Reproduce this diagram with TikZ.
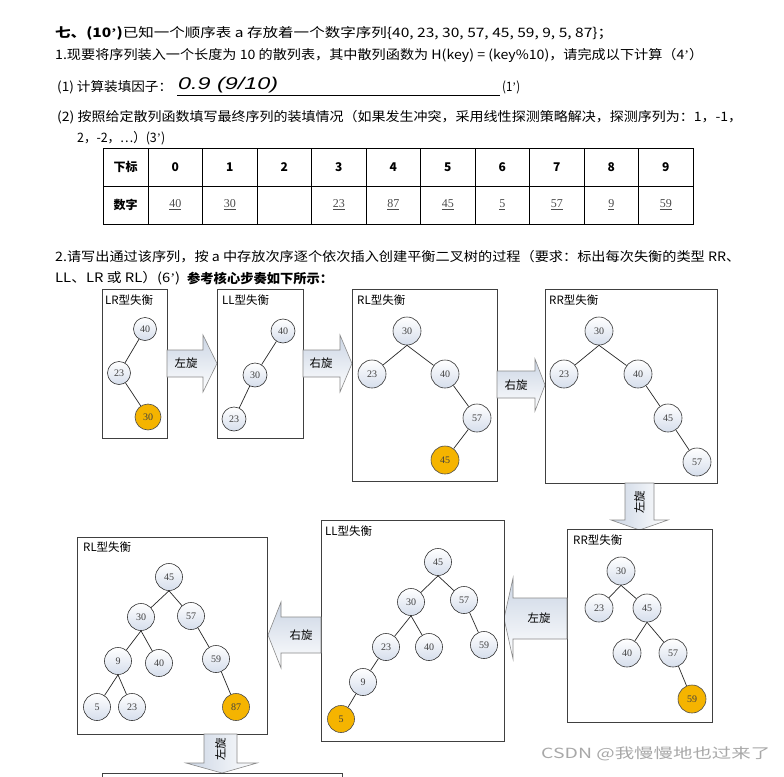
\documentclass[tikz,border=0pt]{standalone}
\usepackage{fontspec}
\usepackage{graphicx}
\setmainfont{Noto Sans CJK SC}
\newfontfamily\numfont{Liberation Serif}
\newfontfamily\ansfont{Liberation Sans}
\newcommand{\ap}{{\numfont ’}}
\definecolor{boxline}{HTML}{404040}
\definecolor{nodefill}{HTML}{D6DEEC}
\definecolor{hot}{HTML}{F5B400}
\definecolor{arrfill}{HTML}{CBD5E4}
\definecolor{arrline}{HTML}{8A8A8A}
\definecolor{wmark}{HTML}{A8A8A8}
\tikzset{
  nd/.style={circle, draw=black!80, line width=0.6pt, top color=white, bottom color=nodefill,
    inner sep=0pt, minimum size=27pt, font=\numfont\fontsize{10}{11}\selectfont, text=black!75},
  hotnd/.style={circle, draw=black!70, line width=0.6pt, fill=hot,
    inner sep=0pt, minimum size=27pt, font=\numfont\fontsize{10}{11}\selectfont, text=black!75},
  panel/.style={draw=boxline, line width=0.8pt, fill=white},
  ptitle/.style={anchor=west, inner sep=0pt, font=\fontsize{11.5}{12}\selectfont},
  edge/.style={draw=black!85, line width=0.7pt},
  harrow/.style={draw=arrline, line width=0.6pt, top color=arrfill, bottom color=white},
  varrow/.style={draw=arrline, line width=0.6pt, left color=arrfill, right color=white},
  alabel/.style={inner sep=0pt, font=\fontsize{11.5}{12}\selectfont},
  qline/.style={anchor=west, inner sep=0pt, font=\fontsize{13}{15}\selectfont},
  thead/.style={inner sep=0pt, font=\bfseries\fontsize{12}{13}\selectfont},
  tval/.style={inner sep=0pt, text=black!70, font=\numfont\fontsize{12}{13}\selectfont},
}
\begin{document}
\begin{tikzpicture}[x=1pt,y=-1pt]
\useasboundingbox (0,0) rectangle (784,776);
\fill[white] (0,0) rectangle (784,776);

% ---------- question text ----------
\node[qline] (t1) at (55,33) {\resizebox{558pt}{\height}{\textbf{七、(10\ap)}已知一个顺序表 a 存放着一个数字序列\{40, 23, 30, 57, 45, 59, 9, 5, 87\}；}};
\node[qline] (t2) at (55,55) {\resizebox{648pt}{\height}{1.现要将序列装入一个长度为 10 的散列表，其中散列函数为 H(key) = (key\%10)，请完成以下计算（4\ap）}};
\node[qline] (t3a) at (57,87) {\resizebox{115pt}{\height}{(1) 计算装填因子：}};
\node[anchor=west, inner sep=0pt, font=\ansfont\itshape\fontsize{17}{18}\selectfont] (t3b) at (178,85) {\resizebox{100pt}{\height}{0.9 (9/10)}};
\coordinate (u1) at (177,95);
\coordinate (u2) at (500,95);
\draw[line width=0.8pt] (u1) -- (u2);
\node[qline] (t3c) at (502,87) {\resizebox{18pt}{\height}{(1\ap)}};
\node[qline] (t4) at (57,117) {\resizebox{685pt}{\height}{(2) 按照给定散列函数填写最终序列的装填情况（如果发生冲突，采用线性探测策略解决，探测序列为：1，-1，}};
\node[qline] (t5) at (77,138) {\resizebox{88pt}{\height}{2，-2，…）(3\ap)}};

% ---------- table ----------
\draw[line width=0.8pt] (103,148) rectangle (693,224);
\draw[line width=0.8pt] (103,186) -- (693,186);
\foreach \xx in {148,202.5,257,311.5,366,420.5,475,529.5,584,638.5} {
  \draw[line width=0.8pt] (\xx,148) -- (\xx,224);
}
\node[thead] (h0) at (125.5,167) {下标};
\node[thead] (h1) at (125.5,205) {数字};
\foreach \i/\v in {0/40,1/30,2/{},3/23,4/87,5/45,6/5,7/57,8/9,9/59} {
  \node[thead] (c\i) at ({175.25+54.5*\i},167) {\i};
  \node[tval] (v\i) at ({175.25+54.5*\i},205) {\underline{\v}};
}

% ---------- section 2 text ----------
\node[qline] (t6) at (55,257) {\resizebox{685pt}{\height}{2.请写出通过该序列，按 a 中存放次序逐个依次插入创建平衡二叉树的过程（要求：标出每次失衡的类型 RR、}};
\node[qline] (t7a) at (55,278) {\resizebox{125pt}{\height}{LL、LR 或 RL）(6\ap)}};
\node[qline] (t7b) at (187,278) {\resizebox{146pt}{\height}{\textbf{参考核心步奏如下所示：}}};

% ---------- panel A ----------
\draw[panel] (102,289) rectangle (167,438);
\node[ptitle] (pa) at (105,300) {LR型失衡};
\node[nd, minimum size=23pt] (a40) at (145,329) {40};
\node[nd, minimum size=23pt] (a23) at (119,373) {23};
\node[hotnd, minimum size=26pt] (a30) at (148,417) {30};
\draw[edge] (a40) -- (a23);
\draw[edge] (a23) -- (a30);

% arrow A -> B
\draw[harrow] (167,350) -- (203,350) -- (203,335) -- (217,363.5) -- (203,392) -- (203,377) -- (167,377) -- cycle;
\node[alabel] (la) at (186,363.5) {左旋};

% ---------- panel B ----------
\draw[panel] (217,289) rectangle (303,438);
\node[ptitle] (pb) at (222,300) {LL型失衡};
\node[nd, minimum size=24pt] (b40) at (283,331) {40};
\node[nd, minimum size=24pt] (b30) at (255,375) {30};
\node[nd, minimum size=24pt] (b23) at (234,419) {23};
\draw[edge] (b40) -- (b30);
\draw[edge] (b30) -- (b23);

% arrow B -> C
\draw[harrow] (303,350) -- (340,350) -- (340,335) -- (352,363.5) -- (340,392) -- (340,377) -- (303,377) -- cycle;
\node[alabel] (lb) at (321,363.5) {右旋};

% ---------- panel C ----------
\draw[panel] (352,289) rectangle (497,481);
\node[ptitle] (pc) at (357,300) {RL型失衡};
\node[nd, minimum size=28pt] (c30) at (407,331) {30};
\node[nd, minimum size=28pt] (c23) at (372,374) {23};
\node[nd, minimum size=28pt] (c40) at (445,374) {40};
\node[nd, minimum size=28pt] (c57) at (477,418) {57};
\node[hotnd, minimum size=28pt] (c45) at (445,460) {45};
\draw[edge] (c30.south) -- (c23);
\draw[edge] (c30.south) -- (c40);
\draw[edge] (c40) -- (c57);
\draw[edge] (c57) -- (c45);

% arrow C -> D
\draw[harrow] (497,371) -- (535,371) -- (535,359) -- (545,385) -- (535,411) -- (535,398) -- (497,398) -- cycle;
\node[alabel] (lc) at (516,385) {右旋};

% ---------- panel D ----------
\draw[panel] (545,289) rectangle (717,483);
\node[ptitle] (pd) at (549,300) {RR型失衡};
\node[nd, minimum size=28pt] (d30) at (599,331) {30};
\node[nd, minimum size=28pt] (d23) at (564,374) {23};
\node[nd, minimum size=28pt] (d40) at (638,374) {40};
\node[nd, minimum size=28pt] (d45) at (668,418) {45};
\node[nd, minimum size=28pt] (d57) at (697,462) {57};
\draw[edge] (d30.south) -- (d23);
\draw[edge] (d30.south) -- (d40);
\draw[edge] (d40) -- (d45);
\draw[edge] (d45) -- (d57);

% arrow D -> E (down)
\draw[varrow] (625,483) -- (654,483) -- (654,520) -- (668,520) -- (639.5,530) -- (611,520) -- (625,520) -- cycle;
\node[alabel, rotate=90] (ld) at (639.5,502) {左旋};

% ---------- panel E ----------
\draw[panel] (567,529) rectangle (712,722);
\node[ptitle] (pe) at (573,540) {RR型失衡};
\node[nd, minimum size=28pt] (e30) at (621,571) {30};
\node[nd, minimum size=28pt] (e23) at (599,608) {23};
\node[nd, minimum size=28pt] (e45) at (647,608) {45};
\node[nd, minimum size=28pt] (e40) at (627,653) {40};
\node[nd, minimum size=28pt] (e57) at (673,653) {57};
\node[hotnd, minimum size=28pt] (e59) at (692,699) {59};
\draw[edge] (e30.south) -- (e23);
\draw[edge] (e30.south) -- (e45);
\draw[edge] (e45.south) -- (e40);
\draw[edge] (e45.south) -- (e57);
\draw[edge] (e57) -- (e59);

% arrow E -> F (left)
\draw[harrow] (567,598) -- (513,598) -- (513,578) -- (504,618.5) -- (513,659) -- (513,639) -- (567,639) -- cycle;
\node[alabel] (le) at (539,618.5) {左旋};

% ---------- panel F ----------
\draw[panel] (321,520) rectangle (504,741);
\node[ptitle] (pf) at (325,531) {LL型失衡};
\node[nd] (f45) at (438,562) {45};
\node[nd] (f30) at (411,602) {30};
\node[nd] (f57) at (464,600) {57};
\node[nd] (f23) at (386,647) {23};
\node[nd] (f40) at (429,647) {40};
\node[nd] (f59) at (484,645) {59};
\node[nd] (f9) at (363,682) {9};
\node[hotnd] (f5) at (341,719) {5};
\draw[edge] (f45.south) -- (f30);
\draw[edge] (f45.south) -- (f57);
\draw[edge] (f30.south) -- (f23);
\draw[edge] (f30.south) -- (f40);
\draw[edge] (f57) -- (f59);
\draw[edge] (f23) -- (f9);
\draw[edge] (f9) -- (f5);

% arrow F -> G (left)
\draw[harrow] (321,617) -- (281,617) -- (281,602) -- (268,635) -- (281,668) -- (281,653) -- (321,653) -- cycle;
\node[alabel] (lf) at (301,635) {右旋};

% ---------- panel G ----------
\draw[panel] (77,537) rectangle (267,734);
\node[ptitle] (pg) at (83,547) {RL型失衡};
\node[nd] (g45) at (169,577) {45};
\node[nd] (g30) at (141,617) {30};
\node[nd] (g57) at (191,616) {57};
\node[nd] (g9) at (118,661) {9};
\node[nd] (g40) at (159,663) {40};
\node[nd] (g59) at (216,659) {59};
\node[nd] (g5) at (97,707) {5};
\node[nd] (g23) at (132,707) {23};
\node[hotnd] (g87) at (236,707) {87};
\draw[edge] (g45.south) -- (g30);
\draw[edge] (g45.south) -- (g57);
\draw[edge] (g30.south) -- (g9);
\draw[edge] (g30.south) -- (g40);
\draw[edge] (g57) -- (g59);
\draw[edge] (g9.south) -- (g5);
\draw[edge] (g9.south) -- (g23);
\draw[edge] (g59) -- (g87);

% arrow G -> next (down)
\draw[varrow] (204,734) -- (237,734) -- (237,763) -- (257,763) -- (222,773) -- (186,763) -- (204,763) -- cycle;
\node[alabel, rotate=90] (lg) at (220.5,749) {左旋};

% next panel, cut by the page edge
\draw[boxline, line width=0.8pt] (102,778) -- (102,773) -- (342,773) -- (342,778);

% watermark
\node[anchor=west, inner sep=0pt, text=wmark, font=\fontsize{14}{15}\selectfont] (wm) at (541,754) {\resizebox{229pt}{\height}{CSDN @我慢慢地也过来了}};
\end{tikzpicture}
\end{document}
